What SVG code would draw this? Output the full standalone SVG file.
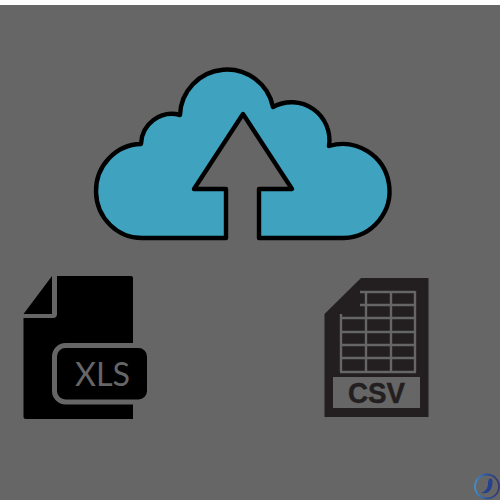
<svg xmlns="http://www.w3.org/2000/svg" width="500" height="500" viewBox="0 0 500 500">
<defs>
<linearGradient id="ring" x1="0" y1="0" x2="1" y2="0"><stop offset="0" stop-color="#3f8fd0"/><stop offset="0.5" stop-color="#2c4f9a"/><stop offset="1" stop-color="#34386c"/></linearGradient>
</defs>
<style>
.gl{stroke:#666;stroke-width:2.400;fill:none}
</style>
<rect width="500" height="500" fill="#666"/>
<rect width="500" height="5" fill="#fff"/>
<g id="cloud">
<path d="M143 238H226V189H194L243 114L292 189H259V238H344A47 47 0 1 0 329 146A38 38 0 0 0 273 107A47 47 0 0 0 180 115A31 31 0 0 0 141 144A46 47 0 0 0 143 238Z" fill="#3fa2bf" stroke="#000" stroke-width="4.400" stroke-linejoin="round"/>
</g>
<g id="xls">
<path d="M57 276H131Q133 276 133 278V419H26Q23.500 419 23.500 416.500V318H53Q57 318 57 314Z" fill="#000"/>
<path d="M52 276V314H23.500Z" fill="#000"/>
<rect x="54.500" y="345.500" width="95" height="56.500" rx="11" fill="#000" stroke="#666" stroke-width="5"/>
<text x="75" y="386" font-family="Lato, 'Open Sans', sans-serif" font-weight="400" font-size="33" fill="#666" textLength="55" lengthAdjust="spacingAndGlyphs">XLS</text>
</g>
<g id="csv">
<path d="M361 278H428.500V417H324.500V314Z" fill="#231f20"/>
<path class="gl" d="M360 292H415M360 305H415M341 318H415M341 332H415M341 345H415M341 358H415M340 372H416M341 314V372M366 292V372M391 292V372M415 291V372"/>
<rect x="333" y="377" width="87" height="31" fill="#666"/>
<text x="376.500" y="403" text-anchor="middle" font-family="'Liberation Sans', Arial, sans-serif" font-weight="700" font-size="29" fill="#231f20" stroke="#231f20" stroke-width="0.500" textLength="57" lengthAdjust="spacingAndGlyphs">CSV</text>
</g>
<g id="logo">
<circle cx="487" cy="486.500" r="12" fill="none" stroke="url(#ring)" stroke-width="1.800"/>
<path d="M489 479Q492.500 477.500 492.500 481.500C492.500 488 490 495 481 493Q487 491 488 485Q488 481 489 479Z" fill="#24408f"/>
</g>
</svg>
